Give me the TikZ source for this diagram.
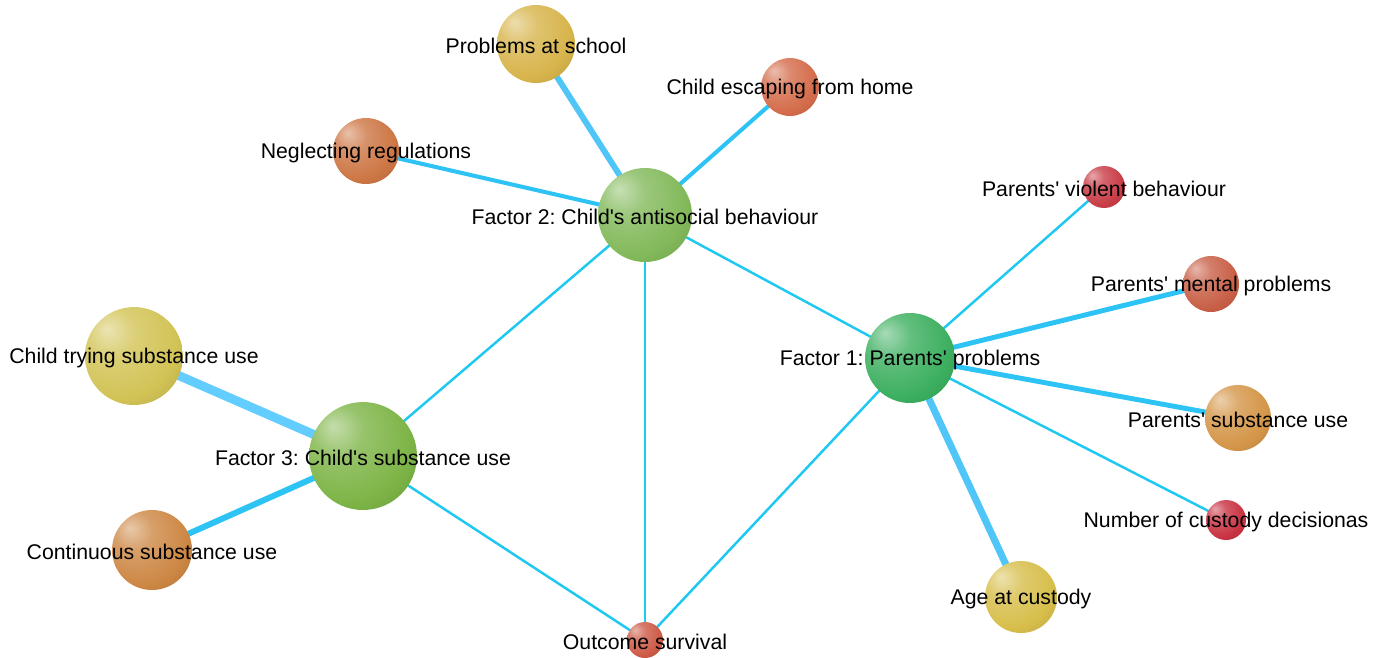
\documentclass[tikz,border=0pt]{standalone}
\usepackage{fontspec}
\setmainfont{Liberation Sans}[Ligatures=TeXOff]
\frenchspacing
\makeatletter
\pgfdeclareradialshading[tikz@ball]{myorb}{\pgfqpoint{-14bp}{14bp}}{%
 color(0bp)=(tikz@ball!45!white);
 color(12bp)=(tikz@ball!80!white);
 color(30bp)=(tikz@ball);
 color(48bp)=(tikz@ball!80!black);
 color(70bp)=(tikz@ball!68!black)}
\makeatother
\definecolor{gA}{RGB}{130,185,90}
\definecolor{gB}{RGB}{60,175,95}
\definecolor{gC}{RGB}{125,180,70}
\definecolor{yA}{RGB}{210,195,85}
\definecolor{yB}{RGB}{215,180,75}
\definecolor{yC}{RGB}{215,190,75}
\definecolor{oA}{RGB}{212,150,72}
\definecolor{oB}{RGB}{205,135,68}
\definecolor{oC}{RGB}{205,118,68}
\definecolor{oD}{RGB}{212,108,75}
\definecolor{rA}{RGB}{200,95,70}
\definecolor{rB}{RGB}{205,90,70}
\definecolor{rC}{RGB}{200,60,70}
\definecolor{rD}{RGB}{200,50,65}
\definecolor{eThin}{RGB}{30,200,240}
\definecolor{eMid}{RGB}{45,196,245}
\definecolor{eThick}{RGB}{80,198,248}
\definecolor{eMax}{RGB}{100,205,255}
\tikzset{
  orb/.style 2 args={circle, inner sep=0pt, minimum size=#2*0.04cm, ball color=#1, shading=myorb},
  lbl/.style={font=\fontsize{12.1}{14}\selectfont, text=black, inner sep=0pt, yshift=-0.04cm},
  ethin/.style={draw=eThin, line width=1.4pt},
  emid/.style={draw=eMid, line width=2.3pt},
  ethick/.style={draw=eThick, line width=3.4pt},
  emax/.style={draw=eMax, line width=5.1pt}
}
\begin{document}
\begin{tikzpicture}[x=0.02cm,y=-0.02cm]
\useasboundingbox[fill=white] (0,0) rectangle (1375,657);
% nodes (positions)
\coordinate (f2) at (645,215);
\coordinate (f1) at (910,358);
\coordinate (f3) at (363,456);
\coordinate (sch) at (536,44);
\coordinate (esc) at (790,87);
\coordinate (neg) at (366,151);
\coordinate (vio) at (1104,187);
\coordinate (men) at (1211,284);
\coordinate (sub) at (1238,418);
\coordinate (cus) at (1226,520);
\coordinate (age) at (1021,597);
\coordinate (out) at (645,640);
\coordinate (try) at (134,356);
\coordinate (con) at (152,550);
% edges
\draw[ethick] (f2) -- (sch);
\draw[emid] (f2) -- (esc);
\draw[emid] (f2) -- (neg);
\draw[ethin] (f2) -- (f3);
\draw[ethin] (f2) -- (f1);
\draw[ethin] (f2) -- (out);
\draw[ethin] (f1) -- (vio);
\draw[emid, line width=2.8pt] (f1) -- (men);
\draw[emid, line width=2.8pt] (f1) -- (sub);
\draw[ethin] (f1) -- (cus);
\draw[ethick, line width=4pt] (f1) -- (age);
\draw[ethin] (f1) -- (out);
\draw[emax] (f3) -- (try);
\draw[ethick, draw=eMid] (f3) -- (con);
\draw[ethin] (f3) -- (out);
% balls
\node[orb={gA}{47}] (nf2) at (f2) {};
\node[orb={gB}{45}] (nf1) at (f1) {};
\node[orb={gC}{54}] (nf3) at (f3) {};
\node[orb={yB}{39}] (nsch) at (sch) {};
\node[orb={oD}{29}] (nesc) at (esc) {};
\node[orb={oC}{33}] (nneg) at (neg) {};
\node[orb={rC}{21}] (nvio) at (vio) {};
\node[orb={rA}{28}] (nmen) at (men) {};
\node[orb={oA}{33}] (nsub) at (sub) {};
\node[orb={rD}{20}] (ncus) at (cus) {};
\node[orb={yC}{36}] (nage) at (age) {};
\node[orb={rB}{18}] (nout) at (out) {};
\node[orb={yA}{49}] (ntry) at (try) {};
\node[orb={oB}{40}] (ncon) at (con) {};
% labels
\node[lbl] (lf2) at (f2) {Factor 2: Child's antisocial behaviour};
\node[lbl] (lf1) at (f1) {Factor 1: Parents' problems};
\node[lbl] (lf3) at (f3) {Factor 3: Child's substance use};
\node[lbl] (lsch) at (sch) {Problems at school};
\node[lbl] (lesc) at (esc) {Child escaping from home};
\node[lbl] (lneg) at (neg) {Neglecting regulations};
\node[lbl] (lvio) at (vio) {Parents' violent behaviour};
\node[lbl] (lmen) at (men) {Parents' mental problems};
\node[lbl] (lsub) at (sub) {Parents' substance use};
\node[lbl] (lcus) at (cus) {Number of custody decisionas};
\node[lbl] (lage) at (age) {Age at custody};
\node[lbl] (lout) at (out) {Outcome survival};
\node[lbl] (ltry) at (try) {Child trying substance use};
\node[lbl] (lcon) at (con) {Continuous substance use};
\end{tikzpicture}
\end{document}
